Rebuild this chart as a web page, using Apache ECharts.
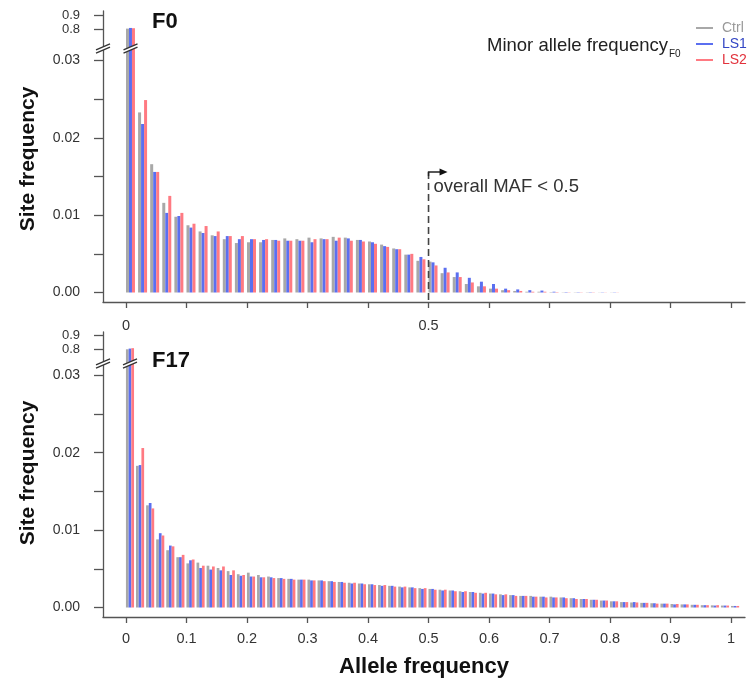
<!DOCTYPE html>
<html><head><meta charset="utf-8">
<script src="https://cdn.jsdelivr.net/npm/echarts@6/dist/echarts.min.js"></script>
<style>html,body{margin:0;padding:0;background:#fff}#c{width:748px;height:689px}</style>
</head><body><div id="c"></div>
<script>
// ---------------- data ----------------
const seriesNames = ['Ctrl', 'LS1', 'LS2'];
const binsF0 = [0,0.02,0.04,0.06,0.08,0.10,0.12,0.14,0.16,0.18,0.20,0.22,0.24,0.26,0.28,0.30,0.32,0.34,0.36,0.38,0.40,
  0.42,0.44,0.46,0.48,0.50,0.52,0.54,0.56,0.58,0.60,0.62,0.64,0.66,0.68,0.70,0.72,0.74,0.76,0.78,0.80];
const ctrlF0 = [0.805,0.0233,0.0166,0.0116,0.0098,0.0087,0.0079,0.0074,0.0069,0.0064,0.0065,0.0065,0.0068,0.0070,0.0069,0.0071,0.0070,0.0072,0.0071,0.0068,0.0066,
  0.0062,0.0057,0.0049,0.0041,0.0040,0.0025,0.0020,0.0011,0.0008,0.0005,0.0003,0.0002,0.0001,0.0001,0.00005,0.00003,0.00003,0.00003,0.00002,0.00002];
const ls1F0 = [0.81,0.0218,0.0156,0.0103,0.0099,0.0084,0.0077,0.0073,0.0073,0.0069,0.0069,0.0068,0.0068,0.0067,0.0067,0.0065,0.0069,0.0067,0.0070,0.0068,0.0065,
  0.0060,0.0056,0.0049,0.0046,0.0039,0.0032,0.0026,0.0019,0.0014,0.0011,0.0005,0.0004,0.0003,0.00025,0.0001,0.00005,0.00004,0.00004,0.00003,0.00003];
const ls2F0 = [0.808,0.0249,0.0156,0.0125,0.0103,0.0089,0.0086,0.0079,0.0073,0.0073,0.0069,0.0069,0.0067,0.0067,0.0067,0.0069,0.0069,0.0071,0.0067,0.0066,0.0063,
  0.0059,0.0056,0.0050,0.0043,0.0035,0.0026,0.0020,0.0013,0.0008,0.0005,0.0003,0.0002,0.0001,0.0001,0.00005,0.00003,0.00003,0.00003,0.00002,0.00002];

const binsF17 = [0,1/60,2/60,3/60,4/60,5/60,6/60,7/60,8/60,9/60,10/60,11/60,12/60,13/60,14/60,15/60,16/60,17/60,18/60,19/60,20/60,
  21/60,22/60,23/60,24/60,25/60,26/60,27/60,28/60,29/60,30/60,31/60,32/60,33/60,34/60,35/60,36/60,37/60,38/60,39/60,40/60,
  41/60,42/60,43/60,44/60,45/60,46/60,47/60,48/60,49/60,50/60,51/60,52/60,53/60,54/60,55/60,56/60,57/60,58/60,59/60,60/60];
const ctrlF17 = [0.80,0.0183,0.0132,0.0088,0.0074,0.0065,0.0057,0.0058,0.0054,0.0051,0.0047,0.0043,0.0045,0.0042,0.0040,0.0038,0.0037,0.0036,0.0036,0.0035,0.0034,
  0.0033,0.0032,0.0031,0.0030,0.0029,0.0028,0.0027,0.0026,0.0025,0.0024,0.0023,0.0022,0.0021,0.0020,0.0019,0.0018,0.0017,0.0016,0.0015,0.0015,
  0.0014,0.0014,0.0013,0.0012,0.0011,0.0010,0.0009,0.0008,0.0007,0.00065,0.0006,0.00055,0.0005,0.00045,0.0004,0.00035,0.0003,0.00028,0.00025,0.0002];
const ls1F17 = [0.805,0.0184,0.0135,0.0096,0.0080,0.0065,0.0061,0.0051,0.0049,0.0048,0.0042,0.0041,0.0040,0.0039,0.0039,0.0038,0.0037,0.0036,0.0035,0.0035,0.0034,
  0.0033,0.0031,0.0031,0.0030,0.0028,0.0028,0.0026,0.0026,0.0024,0.0024,0.0022,0.0022,0.0020,0.0020,0.0018,0.0018,0.0016,0.0016,0.0015,0.0014,
  0.0014,0.0013,0.0013,0.0012,0.0011,0.0010,0.0009,0.0008,0.0007,0.0007,0.0006,0.00055,0.0005,0.0004,0.0004,0.00035,0.0003,0.00025,0.00025,0.0002];
const ls2F17 = [0.808,0.0206,0.0128,0.0093,0.0079,0.0068,0.0062,0.0054,0.0053,0.0053,0.0048,0.0042,0.0040,0.0039,0.0038,0.0037,0.0036,0.0036,0.0035,0.0034,0.0033,
  0.0032,0.0032,0.0030,0.0029,0.0029,0.0027,0.0027,0.0025,0.0025,0.0023,0.0023,0.0021,0.0021,0.0019,0.0019,0.0017,0.0017,0.0015,0.0015,0.0014,
  0.0013,0.0013,0.0012,0.0011,0.0011,0.0010,0.0009,0.0008,0.0007,0.00065,0.0006,0.0005,0.0005,0.00045,0.0004,0.00035,0.0003,0.0003,0.00025,0.0002];

const xTicks = [0,0.1,0.2,0.3,0.4,0.5,0.6,0.7,0.8,0.9,1];
const xLabelsTop = [0,0.5];
const yTicksLow = [0,0.005,0.01,0.015,0.02,0.025,0.03];
const yLabelsLow = [0,0.01,0.02,0.03];
const yTicksHigh = [0.8,0.9];

// ---------------- style / layout ----------------
const FONT = '"Liberation Sans", Arial, Helvetica, sans-serif';
const colors = ['#a8a8a8', '#5b6ff0', '#ff7a82'];
const AX = '#555';
const X_MIN = -0.038, X_MAX = 1.023;
const dTop = 0.0074, dBot = 0.0066;

const grids = [
  {left:103, right:3, top:11, height:37.5},
  {left:103, right:3, top:48.5, height:253.5},
  {left:103, right:3, top:332, height:31.5},
  {left:103, right:3, top:363.5, height:253.5}
];

function yAx(gi, min, max, ticks, labels, fmt, fs) {
  return {
    type:'value', gridIndex:gi, min:min, max:max, position:'left', splitLine:{show:false},
    axisLine:{show:true, onZero:false, lineStyle:{color:AX, width:1.3}},
    axisTick:{show:true, length:9, customValues:ticks, lineStyle:{color:AX, width:1.3}},
    axisLabel:{show:true, hideOverlap:false, customValues:labels, margin:23, color:'#333', fontSize:fs, fontFamily:FONT, formatter:fmt}
  };
}
const yAxes = [
  yAx(0, 0.6588, 0.9346, yTicksHigh, yTicksHigh, v => v.toFixed(1), 13),
  yAx(1, -0.001229, 0.03157, yTicksLow, yLabelsLow, v => v.toFixed(2), 14),
  yAx(2, 0.7007, 0.921, yTicksHigh, yTicksHigh, v => v.toFixed(1), 13),
  yAx(3, -0.001227, 0.03152, yTicksLow, yLabelsLow, v => v.toFixed(2), 14)
];
function hiddenX(gi, d) {
  return {type:'value', gridIndex:gi, min:X_MIN - d, max:X_MAX - d, show:false, position:'top', axisLine:{onZero:false}};
}
function visX(gi, labels, margin, fmt, name) {
  return {
    type:'value', gridIndex:gi, min:X_MIN, max:X_MAX, position:'bottom', splitLine:{show:false},
    axisLine:{show:true, onZero:false, lineStyle:{color:AX, width:1.3}},
    axisTick:{show:true, length:6, customValues:xTicks, lineStyle:{color:AX, width:1.3}},
    axisLabel:{show:true, hideOverlap:false, customValues:labels, margin:margin, color:'#333', fontSize:14.5, fontFamily:FONT, formatter:fmt},
    name:name || '', nameLocation:'middle', nameGap:39,
    nameTextStyle:{fontSize:22, fontWeight:'bold', color:'#111', fontFamily:FONT}
  };
}
const fmtX = v => (v === 0 ? '0' : (v === 1 ? '1' : v.toFixed(1)));
const xAxes = [
  hiddenX(0, dTop),
  visX(1, xLabelsTop, 16, fmtX),
  hiddenX(1, dTop),
  hiddenX(2, dBot),
  visX(3, xTicks, 14, fmtX, 'Allele frequency'),
  hiddenX(3, dBot)
];

const pairs = (bins, vals) => bins.map((b, i) => [b, vals[i]]);
const dataF0 = [ctrlF0, ls1F0, ls2F0];
const dataF17 = [ctrlF17, ls1F17, ls2F17];
const series = [];
function addBars(xi, yi, bins, sets, w) {
  sets.forEach((vals, k) => {
    series.push({
      type:'bar', name:seriesNames[k], xAxisIndex:xi, yAxisIndex:yi,
      data:pairs(bins, vals), barWidth:w, barGap:'0%', clip:true, silent:true,
      itemStyle:{color:colors[k]}
    });
  });
}
addBars(0, 0, binsF0, dataF0, 3);
addBars(2, 1, binsF0, dataF0, 3);
addBars(3, 2, binsF17, dataF17, 2.7);
addBars(5, 3, binsF17, dataF17, 2.7);

const chart = echarts.init(document.getElementById('c'), null, {renderer:'canvas'});
chart.setOption({
  animation:false,
  backgroundColor:'#fff',
  textStyle:{fontFamily:FONT},
  grid:grids, xAxis:xAxes, yAxis:yAxes, series:series,
  legend:{
    show:true, orient:'vertical', left:696, top:21, padding:0, itemGap:2,
    itemWidth:17, itemHeight:2, icon:'rect', selectedMode:false,
    textStyle:{fontSize:14, fontFamily:FONT, padding:[0,0,0,4]},
    data:[
      {name:'Ctrl', textStyle:{color:'#999999'}},
      {name:'LS1', textStyle:{color:'#3346c4'}},
      {name:'LS2', textStyle:{color:'#e2323c'}}
    ]
  }
});

// ---------------- annotations ----------------
function brk(cx, cy) {
  const hw = 7, hd = 3, g = 1.7;
  return [
    {type:'polygon', z:100, shape:{points:[[cx-hw, cy-g+hd],[cx+hw, cy-g-hd],[cx+hw, cy+g-hd],[cx-hw, cy+g+hd]]}, style:{fill:'#fff'}},
    {type:'line', z:101, shape:{x1:cx-hw, y1:cy-g+hd, x2:cx+hw, y2:cy-g-hd}, style:{stroke:'#333', lineWidth:1.3}},
    {type:'line', z:101, shape:{x1:cx-hw, y1:cy+g+hd, x2:cx+hw, y2:cy+g-hd}, style:{stroke:'#333', lineWidth:1.3}}
  ];
}
const p0 = chart.convertToPixel({xAxisIndex:1, yAxisIndex:1}, [0, 0]);
const pMaf = chart.convertToPixel({xAxisIndex:1, yAxisIndex:1}, [0.5, 0.0156]);
const xAxisY = 302;
const g = [];
brk(103, 48.5).forEach(e => g.push(e));
brk(p0[0] + 4.5, 48.5).forEach(e => g.push(e));
brk(103, 363.5).forEach(e => g.push(e));
brk(p0[0] + 4, 363.5).forEach(e => g.push(e));
g.push({type:'line', z:50, shape:{x1:pMaf[0], y1:pMaf[1], x2:pMaf[0], y2:xAxisY}, style:{stroke:'#444', lineWidth:1.6, lineDash:[7,4]}});
g.push({type:'polyline', z:50, shape:{points:[[pMaf[0], pMaf[1]+4],[pMaf[0], pMaf[1]],[pMaf[0]+12, pMaf[1]]]}, style:{stroke:'#222', lineWidth:1.4, fill:null}});
g.push({type:'polygon', z:50, shape:{points:[[pMaf[0]+11, pMaf[1]-3.5],[pMaf[0]+19, pMaf[1]],[pMaf[0]+11, pMaf[1]+3.5]]}, style:{fill:'#111'}});
g.push({type:'text', z:50, x:pMaf[0]+5, y:pMaf[1]+15, style:{text:'overall MAF < 0.5', font:'18.5px ' + FONT, fill:'#333', verticalAlign:'middle', align:'left'}});
g.push({type:'text', z:50, x:152, y:22, style:{text:'F0', font:'bold 22px ' + FONT, fill:'#111', verticalAlign:'middle', align:'left'}});
g.push({type:'text', z:50, x:152, y:361, style:{text:'F17', font:'bold 22px ' + FONT, fill:'#111', verticalAlign:'middle', align:'left'}});
g.push({type:'text', z:50, x:668, y:46, style:{text:'Minor allele frequency', font:'18.5px ' + FONT, fill:'#222', verticalAlign:'middle', align:'right'}});
g.push({type:'text', z:50, x:669, y:54, style:{text:'F0', font:'10px ' + FONT, fill:'#222', verticalAlign:'middle', align:'left'}});
g.push({type:'text', z:50, x:28, y:159, rotation:Math.PI/2, style:{text:'Site frequency', font:'bold 21px ' + FONT, fill:'#111', verticalAlign:'middle', align:'center'}});
g.push({type:'text', z:50, x:28, y:473, rotation:Math.PI/2, style:{text:'Site frequency', font:'bold 21px ' + FONT, fill:'#111', verticalAlign:'middle', align:'center'}});
chart.setOption({graphic:{elements:g}});
</script></body></html>
